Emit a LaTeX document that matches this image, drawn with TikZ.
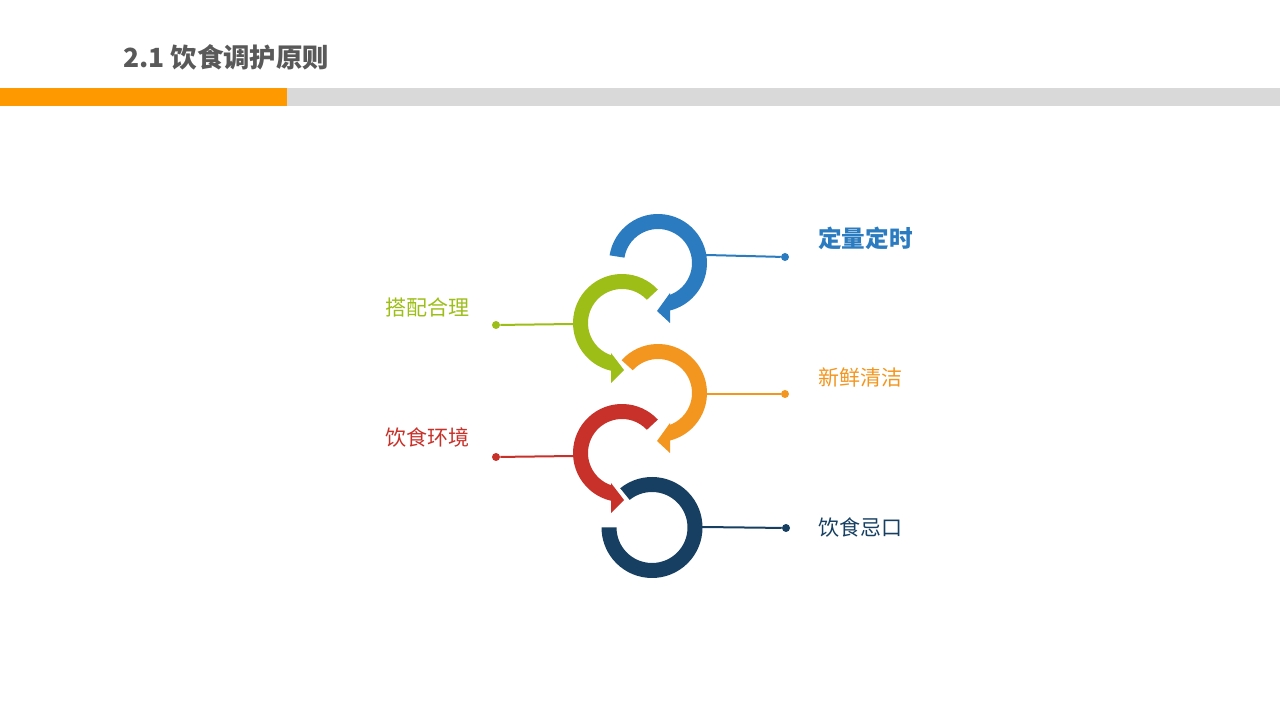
\documentclass[tikz,border=0pt]{standalone}
\usepackage{fontspec}
\newfontfamily\cjk{Noto Sans CJK SC}
\usetikzlibrary{calc}
\definecolor{blueC}{HTML}{2A7BC0}
\definecolor{greenC}{HTML}{9DBE17}
\definecolor{orangeC}{HTML}{F3961F}
\definecolor{redC}{HTML}{C73129}
\definecolor{darkC}{HTML}{163F61}
\definecolor{titleC}{HTML}{595959}
\definecolor{barO}{HTML}{FF9900}
\definecolor{barG}{HTML}{D9D9D9}
\tikzset{
  dotnode/.style={circle,fill=#1,inner sep=0pt,minimum size=6pt},
  conn/.style={draw=#1,line width=1.5pt},
  lbl/.style={text=#1,anchor=west,inner sep=0pt,font=\cjk\fontsize{15.75pt}{18pt}\selectfont},
}
\begin{document}
\begin{tikzpicture}[x=0.75pt,y=0.75pt]
\useasboundingbox (0,0) rectangle (1280,720);
% header
\node[anchor=west,inner sep=0pt,text=titleC,font=\cjk\bfseries\fontsize{19.8pt}{22pt}\selectfont] (title) at (123,663) {2.1 饮食调护原则};
\fill[barO] (0,614) rectangle (287,632);
\fill[barG] (287,614) rectangle (1280,632);
% centers
\coordinate (B) at (658,457);
\coordinate (G) at (622,397);
\coordinate (O) at (658,327);
\coordinate (R) at (622,267);
\coordinate (D) at (652,192.5);
% blue arrow
\fill[blueC] ($(B)+(171:49)$) arc[start angle=171,end angle=-75.82,radius=49]
  -- ($(B)+(-69.33:34)$) arc[start angle=-69.33,end angle=171,radius=34] -- cycle;
\fill[blueC] ($(B)+(12,-30)$) -- ($(B)+(12,-60)$) -- ($(B)+(-1,-48)$) -- cycle;
% green arrow
\fill[greenC] ($(G)+(43:49)$) arc[start angle=43,end angle=257.03,radius=49]
  -- ($(G)+(251.12:34)$) arc[start angle=251.12,end angle=43,radius=34] -- cycle;
\fill[greenC] ($(G)+(-11,-30)$) -- ($(G)+(-11,-60)$) -- ($(G)+(2,-47)$) -- cycle;
% orange arrow
\fill[orangeC] ($(O)+(138:49)$) arc[start angle=138,end angle=-75.82,radius=49]
  -- ($(O)+(-69.33:34)$) arc[start angle=-69.33,end angle=138,radius=34] -- cycle;
\fill[orangeC] ($(O)+(12,-30)$) -- ($(O)+(12,-60)$) -- ($(O)+(-1,-48)$) -- cycle;
% red arrow
\fill[redC] ($(R)+(43:49)$) arc[start angle=43,end angle=257.03,radius=49]
  -- ($(R)+(251.12:34)$) arc[start angle=251.12,end angle=43,radius=34] -- cycle;
\fill[redC] ($(R)+(-11,-30)$) -- ($(R)+(-11,-60)$) -- ($(R)+(2,-47)$) -- cycle;
% dark ring
\fill[darkC] ($(D)+(129:50.5)$) arc[start angle=129,end angle=-180,radius=50.5]
  -- ($(D)+(180:35.5)$) arc[start angle=-180,end angle=129,radius=35.5] -- cycle;
% connectors
\coordinate (bs) at (706,465);
\node[dotnode=blueC] (bd) at (785,463) {};
\draw[conn=blueC] (bs) -- (bd);
\coordinate (gs) at (574,396);
\node[dotnode=greenC] (gd) at (496,395) {};
\draw[conn=greenC] (gs) -- (gd);
\coordinate (os) at (706,326);
\node[dotnode=orangeC] (od) at (785,326) {};
\draw[conn=orangeC] (os) -- (od);
\coordinate (rs) at (574,264);
\node[dotnode=redC] (rd) at (496,263) {};
\draw[conn=redC] (rs) -- (rd);
\coordinate (ds) at (702,193);
\node[dotnode=darkC] (dd) at (786,192) {};
\draw[conn=darkC] (ds) -- (dd);
% labels
\node[lbl=blueC,font=\cjk\bfseries\fontsize{17.7pt}{20pt}\selectfont] (lb) at (818,482) {定量定时};
\node[lbl=greenC] (lg) at (385,413) {搭配合理};
\node[lbl=orangeC] (lo) at (818,342) {新鲜清洁};
\node[lbl=redC] (lr) at (385,282) {饮食环境};
\node[lbl=darkC] (ld) at (818,192) {饮食忌口};
\end{tikzpicture}
\end{document}
